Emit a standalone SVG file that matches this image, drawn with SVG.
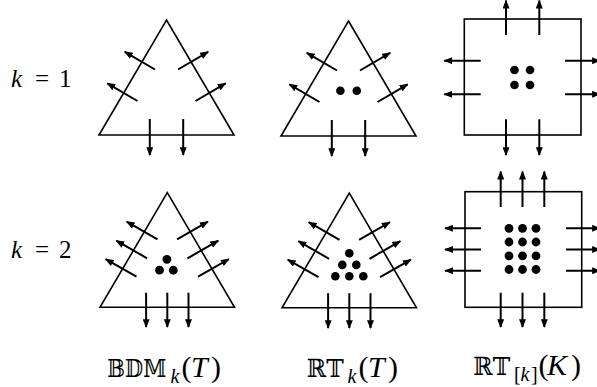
<svg xmlns="http://www.w3.org/2000/svg" width="597" height="387" viewBox="0 0 597 387">
<style>
.shape{fill:none;stroke:#000;stroke-width:1.6;stroke-linejoin:miter}
.arr{stroke:#000;stroke-width:2;marker-end:url(#ah)}
.dot{fill:#000}
.lbl{font-family:"Liberation Serif","Times New Roman",serif;font-size:25px;fill:#000}
.cap{font-family:"Liberation Serif","Times New Roman",serif;font-size:30px;fill:#000}
.sub{font-size:20px}
.it{font-style:italic}
.ds{font-family:"DejaVu Serif","DejaVu Sans",serif;font-size:25px}
</style>
<defs>
<marker id="ah" viewBox="0 0 10 8" refX="9" refY="4" markerWidth="9" markerHeight="7" markerUnits="userSpaceOnUse" orient="auto">
<path d="M0,0 L10,4 L0,8 Z" fill="#000"/>
</marker>
</defs>
<rect width="597" height="387" fill="#fff"/>

<g id="label-k1">
<text class="lbl" y="87"><tspan class="it" x="11">k</tspan><tspan x="35">=</tspan><tspan x="59">1</tspan></text>
</g>
<g id="label-k2">
<text class="lbl" y="258"><tspan class="it" x="11">k</tspan><tspan x="35">=</tspan><tspan x="59">2</tspan></text>
</g>

<g id="bdm1">
<polygon class="shape" points="166.5,20 234,135 99,135"/>
<line class="arr" x1="155" y1="69.5" x2="124.8" y2="51.8"/>
<line class="arr" x1="137.5" y1="101" x2="107.3" y2="83.3"/>
<line class="arr" x1="178" y1="69.5" x2="208.2" y2="51.8"/>
<line class="arr" x1="195.5" y1="101" x2="225.7" y2="83.3"/>
<line class="arr" x1="149.8" y1="119" x2="149.8" y2="155"/>
<line class="arr" x1="183.2" y1="119" x2="183.2" y2="155"/>
</g>

<g id="rt1" transform="translate(182,1)">
<polygon class="shape" points="166.5,20 234,135 99,135"/>
<line class="arr" x1="155" y1="69.5" x2="124.8" y2="51.8"/>
<line class="arr" x1="137.5" y1="101" x2="107.3" y2="83.3"/>
<line class="arr" x1="178" y1="69.5" x2="208.2" y2="51.8"/>
<line class="arr" x1="195.5" y1="101" x2="225.7" y2="83.3"/>
<line class="arr" x1="149.8" y1="119" x2="149.8" y2="155"/>
<line class="arr" x1="183.2" y1="119" x2="183.2" y2="155"/>
<circle class="dot" cx="158.4" cy="89.7" r="4.3"/>
<circle class="dot" cx="174.8" cy="89.7" r="4.3"/>
</g>

<g id="rtq1">
<rect class="shape" x="464.3" y="19" width="116.7" height="116"/>
<line class="arr" x1="506" y1="35" x2="506" y2="0.5"/>
<line class="arr" x1="539.3" y1="35" x2="539.3" y2="0.5"/>
<line class="arr" x1="506" y1="119.3" x2="506" y2="155"/>
<line class="arr" x1="539.3" y1="119.3" x2="539.3" y2="155"/>
<line class="arr" x1="480.7" y1="60.7" x2="444.3" y2="60.7"/>
<line class="arr" x1="480.7" y1="94.3" x2="444.3" y2="94.3"/>
<line class="arr" x1="565" y1="60.7" x2="600" y2="60.7"/>
<line class="arr" x1="565" y1="94.3" x2="600" y2="94.3"/>
<circle class="dot" cx="514.5" cy="70" r="4.3"/>
<circle class="dot" cx="530" cy="70" r="4.3"/>
<circle class="dot" cx="514.5" cy="85" r="4.3"/>
<circle class="dot" cx="530" cy="85" r="4.3"/>
</g>

<g id="bdm2">
<polygon class="shape" points="167.3,192.7 234.5,307.3 100,307.3"/>
<line class="arr" x1="157.5" y1="239.3" x2="126.7" y2="221.7"/>
<line class="arr" x1="147.1" y1="258.3" x2="116.3" y2="240.7"/>
<line class="arr" x1="136.5" y1="276.7" x2="105.7" y2="259.1"/>
<line class="arr" x1="177.1" y1="239.3" x2="207.9" y2="221.7"/>
<line class="arr" x1="187.5" y1="258.3" x2="218.3" y2="240.7"/>
<line class="arr" x1="198.1" y1="276.7" x2="228.9" y2="259.1"/>
<line class="arr" x1="146.1" y1="292.7" x2="146.1" y2="327"/>
<line class="arr" x1="167.3" y1="292.7" x2="167.3" y2="327"/>
<line class="arr" x1="188.5" y1="292.7" x2="188.5" y2="327"/>
<circle class="dot" cx="166.9" cy="259.3" r="4.4"/>
<circle class="dot" cx="159.5" cy="270.2" r="4.4"/>
<circle class="dot" cx="173.3" cy="270.2" r="4.4"/>
</g>

<g id="rt2" transform="translate(182,0.5)">
<polygon class="shape" points="167.3,192.7 234.5,307.3 100,307.3"/>
<line class="arr" x1="157.5" y1="239.3" x2="126.7" y2="221.7"/>
<line class="arr" x1="147.1" y1="258.3" x2="116.3" y2="240.7"/>
<line class="arr" x1="136.5" y1="276.7" x2="105.7" y2="259.1"/>
<line class="arr" x1="177.1" y1="239.3" x2="207.9" y2="221.7"/>
<line class="arr" x1="187.5" y1="258.3" x2="218.3" y2="240.7"/>
<line class="arr" x1="198.1" y1="276.7" x2="228.9" y2="259.1"/>
<line class="arr" x1="146.1" y1="292.7" x2="146.1" y2="327.5"/>
<line class="arr" x1="167.3" y1="292.7" x2="167.3" y2="327.5"/>
<line class="arr" x1="188.5" y1="292.7" x2="188.5" y2="327.5"/>
<circle class="dot" cx="167.3" cy="252.8" r="4.3"/>
<circle class="dot" cx="160.3" cy="264.4" r="4.3"/>
<circle class="dot" cx="174.3" cy="264.4" r="4.3"/>
<circle class="dot" cx="153.3" cy="275.8" r="4.3"/>
<circle class="dot" cx="167.3" cy="275.8" r="4.3"/>
<circle class="dot" cx="181.3" cy="275.8" r="4.3"/>
</g>

<g id="rtq2">
<rect class="shape" x="465" y="191.7" width="116.7" height="115.6"/>
<line class="arr" x1="500.7" y1="207" x2="500.7" y2="171.5"/>
<line class="arr" x1="522.5" y1="207" x2="522.5" y2="171.5"/>
<line class="arr" x1="544.3" y1="207" x2="544.3" y2="171.5"/>
<line class="arr" x1="500.7" y1="292.7" x2="500.7" y2="327"/>
<line class="arr" x1="522.5" y1="292.7" x2="522.5" y2="327"/>
<line class="arr" x1="544.3" y1="292.7" x2="544.3" y2="327"/>
<line class="arr" x1="481" y1="228.3" x2="445" y2="228.3"/>
<line class="arr" x1="481" y1="249.5" x2="445" y2="249.5"/>
<line class="arr" x1="481" y1="270.7" x2="445" y2="270.7"/>
<line class="arr" x1="566" y1="228.3" x2="600" y2="228.3"/>
<line class="arr" x1="566" y1="249.5" x2="600" y2="249.5"/>
<line class="arr" x1="566" y1="270.7" x2="600" y2="270.7"/>
<circle class="dot" cx="509" cy="228.3" r="4.4"/>
<circle class="dot" cx="522.5" cy="228.3" r="4.4"/>
<circle class="dot" cx="536" cy="228.3" r="4.4"/>
<circle class="dot" cx="509" cy="242" r="4.4"/>
<circle class="dot" cx="522.5" cy="242" r="4.4"/>
<circle class="dot" cx="536" cy="242" r="4.4"/>
<circle class="dot" cx="509" cy="255.8" r="4.4"/>
<circle class="dot" cx="522.5" cy="255.8" r="4.4"/>
<circle class="dot" cx="536" cy="255.8" r="4.4"/>
<circle class="dot" cx="509" cy="269.5" r="4.4"/>
<circle class="dot" cx="522.5" cy="269.5" r="4.4"/>
<circle class="dot" cx="536" cy="269.5" r="4.4"/>
</g>

<g id="caption-bdm">
<text class="cap" y="376.7"><tspan class="ds" x="107.3" textLength="59" lengthAdjust="spacingAndGlyphs">𝔹𝔻𝕄</tspan><tspan class="sub it" x="170.5" dy="6">k</tspan><tspan x="181.5" dy="-6">(</tspan><tspan class="it" x="191">T</tspan><tspan x="211">)</tspan></text>
</g>
<g id="caption-rt">
<text class="cap" y="376.7"><tspan class="ds" x="306.7" textLength="37" lengthAdjust="spacingAndGlyphs">ℝ𝕋</tspan><tspan class="sub it" x="347.5" dy="6">k</tspan><tspan x="358.5" dy="-6">(</tspan><tspan class="it" x="368">T</tspan><tspan x="388">)</tspan></text>
</g>
<g id="caption-rtq">
<text class="cap" y="375"><tspan class="ds" x="473.3" textLength="37" lengthAdjust="spacingAndGlyphs">ℝ𝕋</tspan><tspan class="sub" x="514" dy="6">[</tspan><tspan class="sub it" x="520.5">k</tspan><tspan class="sub" x="531">]</tspan><tspan x="538.5" dy="-6">(</tspan><tspan class="it" x="547">K</tspan><tspan x="571">)</tspan></text>
</g>
</svg>
